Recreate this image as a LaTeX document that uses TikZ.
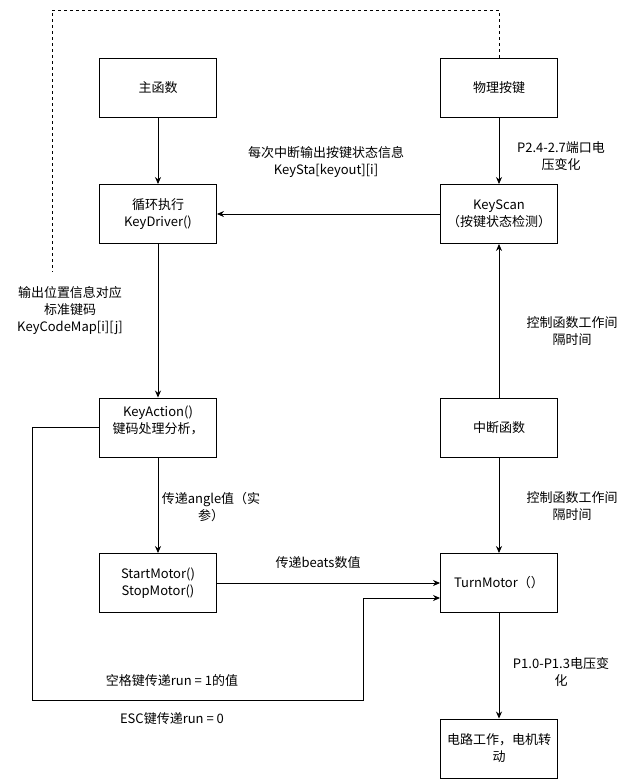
\documentclass[tikz,border=0pt]{standalone}
\usepackage{fontspec}
\setmainfont{Noto Sans CJK SC}
\usetikzlibrary{arrows.meta}

\begin{document}
\begin{tikzpicture}[x=1pt,y=-1pt,
  box/.style={draw,line width=0.9pt,minimum width=117pt,minimum height=59pt,align=center,inner sep=1pt},
  lbl/.style={align=center,inner sep=0pt},
  arr/.style={line width=0.9pt,-{Stealth[length=7pt,width=6pt]}},
  font=\fontsize{13}{17}\selectfont]
  \useasboundingbox[fill=white] (0,0) rectangle (642,782);
  %\draw[help lines] (0,0) grid (642,782);
  \node[box] (main) at (158,87.5) {主函数};
  \node[box] (phys) at (499,87.5) {物理按键};
  \node[box] (driver) at (158,214) {循环执行\\KeyDriver()};
  \node[box] (scan) at (499,214) {KeyScan\\（按键状态检测）};
  \node[box] (action) at (158,427.5) {};
  \node[lbl] (actiontext) at ([yshift=7pt]action.center) {KeyAction()\\键码处理分析，};
  \node[box] (intr) at (499,427.5) {中断函数};
  \node[box] (start) at (158,583) {StartMotor()\\StopMotor()};
  \node[box] (turn) at (499,583) {TurnMotor（）};
  \node[box] (circuit) at (499,748.5) {电路工作，电机转\\动};

  \coordinate (top) at (52,10);
  \coordinate (dashend) at (52,272);
  \coordinate (low) at (32,700);
  \coordinate (bend) at (363,700);

  \draw[arr] (main) -- (driver);
  \draw[arr] (phys) -- (scan);
  \draw[arr] (scan) -- (driver);
  \draw[arr] (driver) -- (action);
  \draw[arr] (intr) -- (scan);
  \draw[arr] (intr) -- (turn);
  \draw[arr] (action) -- (start);
  \draw[arr] (start) -- (turn);
  \draw[arr] (turn) -- (circuit);
  \draw[arr] (action.west) -| (low) -- (bend) |- ([yshift=-15pt]turn.west);
  \draw[line width=0.8pt,dash pattern=on 3pt off 3pt] (phys.north) |- (top) -- (dashend);

  \node[lbl] (lblsta) at (326,161.5) {每次中断输出按键状态信息\\KeySta[keyout][i]};
  \node[lbl] (lblport) at (561,156.5) {P2.4-2.7端口电\\压变化};
  \node[lbl] (lblmap) at (70,311) {输出位置信息对应\\标准键码\\KeyCodeMap[i][j]};
  \node[lbl] (lblctrla) at (572,331.5) {控制函数工作间\\隔时间};
  \node[lbl] (lblctrlb) at (572,506.5) {控制函数工作间\\隔时间};
  \node[lbl] (lblangle) at (211,507) {传递angle值（实\\参）};
  \node[lbl] (lblbeats) at (318,563) {传递beats数值};
  \node[lbl] (lblspace) at (172,681) {空格键传递run = 1的值};
  \node[lbl] (lblesc) at (172,719) {ESC键传递run = 0};
  \node[lbl] (lblvolt) at (561,672) {P1.0-P1.3电压变\\化};
\end{tikzpicture}
\end{document}
